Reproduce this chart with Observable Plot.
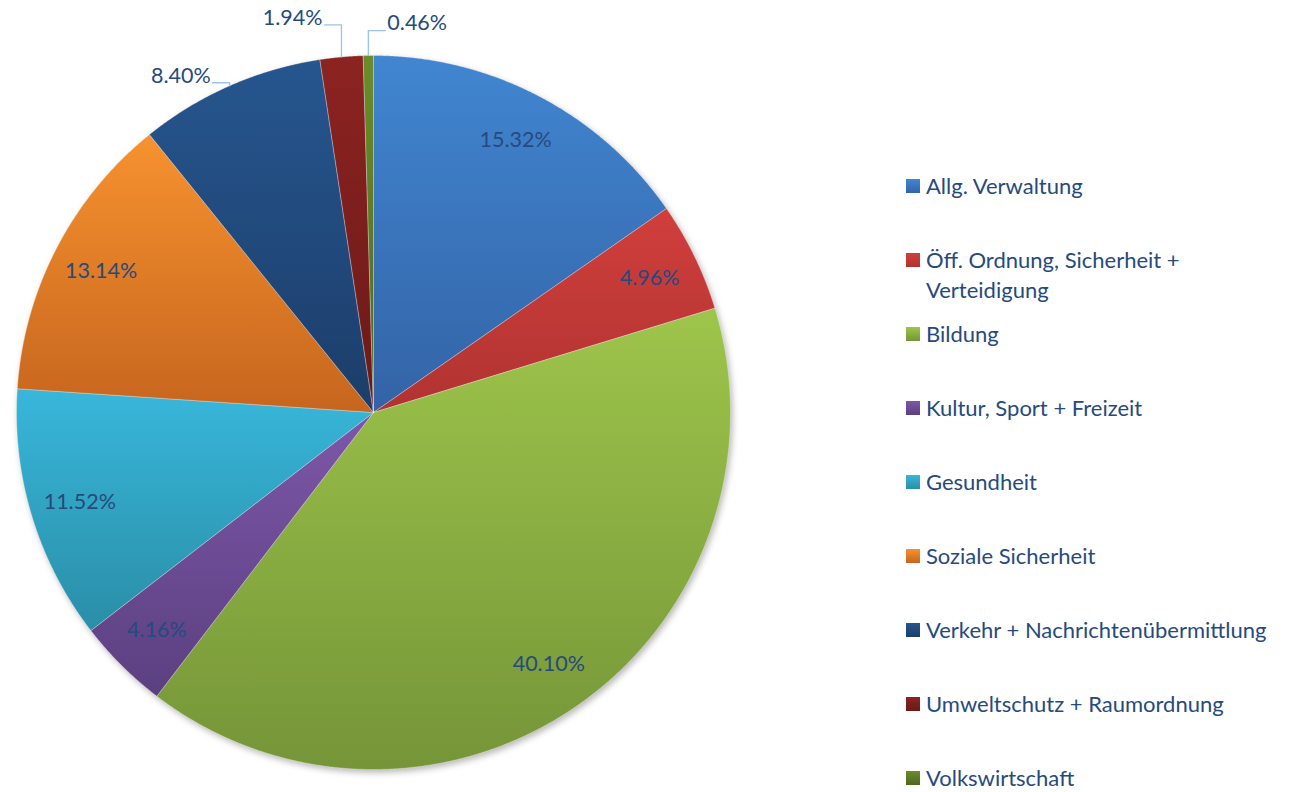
<!DOCTYPE html>
<html>
<head>
<meta charset="utf-8">
<script src="https://cdn.jsdelivr.net/npm/d3@7"></script>
<script src="https://cdn.jsdelivr.net/npm/@observablehq/plot@0.6"></script>
<style>
  html, body { margin: 0; padding: 0; background: #fff; }
  #wrap { position: relative; width: 1293px; height: 792px; font-family: Lato, "Open Sans", sans-serif; }
  #chart { position: absolute; left: 0; top: 0; }
  .legend { position: absolute; left: 906px; top: 0; width: 387px; }
  .item { position: absolute; left: 0; display: flex; align-items: flex-start; color: #264A7E; font-size: 22px; line-height: 30px; white-space: pre; }
  .sw { width: 14px; height: 14px; margin-top: 8px; margin-right: 6px; flex: none; }
</style>
</head>
<body>
<div id="wrap"><div id="chart"></div><div class="legend" id="legend"></div></div>
<script>
// ---- data ----
const categories = [
  "Allg. Verwaltung",
  "Öff. Ordnung, Sicherheit + Verteidigung",
  "Bildung",
  "Kultur, Sport + Freizeit",
  "Gesundheit",
  "Soziale Sicherheit",
  "Verkehr + Nachrichtenübermittlung",
  "Umweltschutz + Raumordnung",
  "Volkswirtschaft"
];
const shares = [15.32, 4.96, 40.10, 4.16, 11.52, 13.14, 8.40, 1.94, 0.46];

// ---- styles ----
const gradTop    = ["#4186D1", "#D03F3C", "#9EC54B", "#7D57A9", "#38B7DB", "#F7922F", "#26568F", "#8C2321", "#6B8C2C"];
const gradBottom = ["#3363A6", "#B03331", "#759538", "#5B4080", "#2A8EA7", "#C6651E", "#1C3D69", "#6A1A18", "#4E671F"];
// outside label placement (px): rise of leader, side (-1 left, +1 right)
const outside = {
  "Verkehr + Nachrichtenübermittlung": {rise: 3, side: -1},
  "Umweltschutz + Raumordnung": {rise: 32, side: -1},
  "Volkswirtschaft": {rise: 25, side: 1}
};
const R = 357; // px radius used for px->data conversion
const textColor = "#264A7E";
const labelFont = "Lato, 'Open Sans', sans-serif";

const total = d3.sum(shares);
let acc = 0;
const slices = categories.map((c, i) => {
  const a0 = acc / total * 2 * Math.PI;
  acc += shares[i];
  const a1 = acc / total * 2 * Math.PI;
  return {c, i, v: shares[i], a0, a1, mid: (a0 + a1) / 2};
});

// slice polygons
const polyPts = [];
for (const s of slices) {
  polyPts.push({key: s.c, grad: `url(#g${s.i})`, x: 0, y: 0});
  const n = Math.max(4, Math.ceil((s.a1 - s.a0) / 0.004));
  for (let k = 0; k <= n; k++) {
    const t = s.a0 + (s.a1 - s.a0) * k / n;
    polyPts.push({key: s.c, grad: `url(#g${s.i})`, x: Math.sin(t), y: Math.cos(t)});
  }
  polyPts.push({key: s.c, grad: `url(#g${s.i})`, x: 0, y: 0});
}

const fmt = v => v.toFixed(2) + "%";
const inLabels = slices.filter(s => !outside[s.c]).map(s => ({
  text: fmt(s.v), x: 0.86 * Math.sin(s.mid), y: 0.86 * Math.cos(s.mid)
}));
const leaderPts = [];
const outLabels = [];
for (const s of slices) {
  const o = outside[s.c];
  if (!o) continue;
  const ax = Math.sin(s.mid), ay = Math.cos(s.mid);
  const ey = ay + o.rise / R;
  const tx = ax + o.side * 17 / R;
  leaderPts.push({key: s.c, x: ax, y: ay}, {key: s.c, x: ax, y: ey}, {key: s.c, x: tx, y: ey});
  outLabels.push({text: fmt(s.v), x: tx + o.side * 2 / R, y: ey, anchor: o.side < 0 ? "end" : "start"});
}

const plot = Plot.plot({
  width: 1293, height: 792,
  marginLeft: 16, marginRight: 563, marginTop: 55, marginBottom: 23,
  x: {domain: [-1, 1], axis: null},
  y: {domain: [-1, 1], axis: null},
  color: {type: "identity"},
  style: {background: "transparent", overflow: "visible"},
  marks: [
    Plot.line(polyPts, {x: "x", y: "y", z: "key", fill: "grad", stroke: "#ffffff", strokeWidth: 0.6, strokeOpacity: 0.5, curve: "linear"}),
    Plot.text(inLabels, {x: "x", y: "y", text: "text", fill: textColor, fontSize: 21.5, fontFamily: labelFont}),
    Plot.line(leaderPts, {x: "x", y: "y", z: "key", stroke: "#9DC3E6", strokeWidth: 1.3, curve: "linear"}),
    Plot.text(outLabels.filter(d => d.anchor === "end"), {x: "x", y: "y", text: "text", textAnchor: "end", dy: -7, fill: textColor, fontSize: 21.5, fontFamily: labelFont}),
    Plot.text(outLabels.filter(d => d.anchor === "start"), {x: "x", y: "y", text: "text", textAnchor: "start", dy: -7, fill: textColor, fontSize: 21.5, fontFamily: labelFont})
  ]
});

const defs = d3.select(plot).insert("defs", ":first-child");
categories.forEach((c, i) => {
  const g = defs.append("linearGradient").attr("id", `g${i}`).attr("x1", 0).attr("y1", 0).attr("x2", 0).attr("y2", 1);
  g.append("stop").attr("offset", "0%").attr("stop-color", gradTop[i]);
  g.append("stop").attr("offset", "100%").attr("stop-color", gradBottom[i]);
});
const firstLine = d3.select(plot).select("g[aria-label=line]");
firstLine.style("filter", "drop-shadow(2px 3px 3px rgba(0,0,0,0.28))");
document.getElementById("chart").appendChild(plot);

// legend
const legend = d3.select("#legend");
categories.forEach((c, i) => {
  const item = legend.append("div").attr("class", "item").style("top", (171 + 74 * i) + "px");
  item.append("div").attr("class", "sw").style("background", `linear-gradient(${gradTop[i]}, ${gradBottom[i]})`);
  item.append("div").text(c.replace(" + Verteidigung", " +\nVerteidigung"));
});
</script>
</body>
</html>
